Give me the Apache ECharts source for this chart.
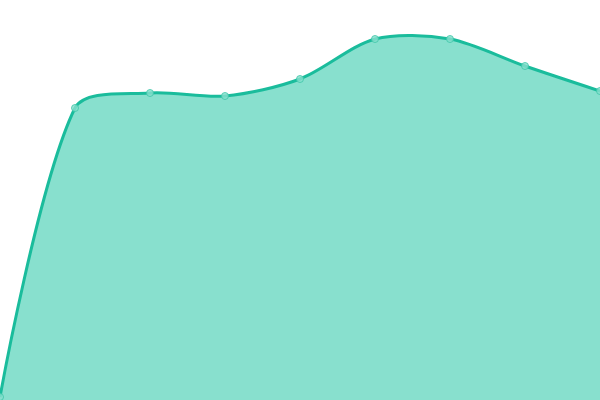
<!DOCTYPE html>
<html lang="en">
<head>
    <meta charset="UTF-8">
    <title>Area</title>
    <style>html, body { margin: 0; padding: 0; }</style>
</head>
<body>
    <div id="echarts" style="width: 600px; height: 400px"></div>
    <script src="https://cdn.jsdelivr.net/npm/echarts@6/dist/echarts.min.js"></script>
    <script>
        const categories = ['1', '2', '3', '4', '5', '6', '7', '8', '9'];
        const values = [3, 292, 307, 304, 321, 361, 361, 334, 309];

        const smooth = 0.3;

        // cardinal-ish bezier through the points (old echarts smoothBezier style)
        function buildPath(pts, bottomY) {
            const n = pts.length;
            const cps = [];
            for (let i = 0; i < n; i++) {
                const p = pts[i];
                if (i === 0 || i === n - 1) {
                    cps.push([p, p]);
                    continue;
                }
                const prev = pts[i - 1], next = pts[i + 1];
                const vx = (next[0] - prev[0]) * smooth;
                const vy = (next[1] - prev[1]) * smooth;
                let d0 = Math.hypot(p[0] - prev[0], p[1] - prev[1]);
                let d1 = Math.hypot(p[0] - next[0], p[1] - next[1]);
                const sum = d0 + d1;
                if (sum) { d0 /= sum; d1 /= sum; }
                cps.push([
                    [p[0] - vx * d0, p[1] - vy * d0],
                    [p[0] + vx * d1, p[1] + vy * d1]
                ]);
            }
            let d = 'M' + pts[0][0] + ' ' + pts[0][1];
            for (let i = 0; i < n - 1; i++) {
                const a = cps[i][1], b = cps[i + 1][0], p = pts[i + 1];
                d += ' C' + a[0] + ' ' + a[1] + ' ' + b[0] + ' ' + b[1] + ' ' + p[0] + ' ' + p[1];
            }
            const line = d;
            const area = d + ' L' + pts[n - 1][0] + ' ' + bottomY + ' L' + pts[0][0] + ' ' + bottomY + ' Z';
            return { line, area };
        }

        const option = {
            animation: false,
            grid: { left: 0, right: 0, top: 0, bottom: 0 },
            xAxis: {
                type: 'category',
                boundaryGap: false,
                data: categories,
                show: false
            },
            yAxis: {
                type: 'value',
                min: 0,
                max: 400,
                show: false
            },
            series: [
                {
                    type: 'custom',
                    data: values,
                    renderItem: function (params, api) {
                        if (params.dataIndex !== 0) return;
                        const pts = values.map((v, i) => api.coord([i, v]));
                        const bottomY = api.coord([0, 0])[1];
                        const paths = buildPath(pts, bottomY);
                        return {
                            type: 'group',
                            children: [
                                {
                                    type: 'path',
                                    shape: { pathData: paths.area },
                                    style: { fill: '#88e0ce', stroke: null }
                                },
                                {
                                    type: 'path',
                                    shape: { pathData: paths.line },
                                    style: { fill: null, stroke: '#1abc9c', lineWidth: 3 }
                                }
                            ]
                        };
                    }
                },
                {
                    type: 'scatter',
                    data: values,
                    symbol: 'circle',
                    symbolSize: 7,
                    itemStyle: { color: '#88e0ce', borderColor: '#3cc6a8', borderWidth: 1 },
                    z: 3
                }
            ]
        };

        var chartDom = document.getElementById("echarts");
        var myChart = echarts.init(chartDom);
        myChart.setOption(option);
    </script>
</body>
</html>
